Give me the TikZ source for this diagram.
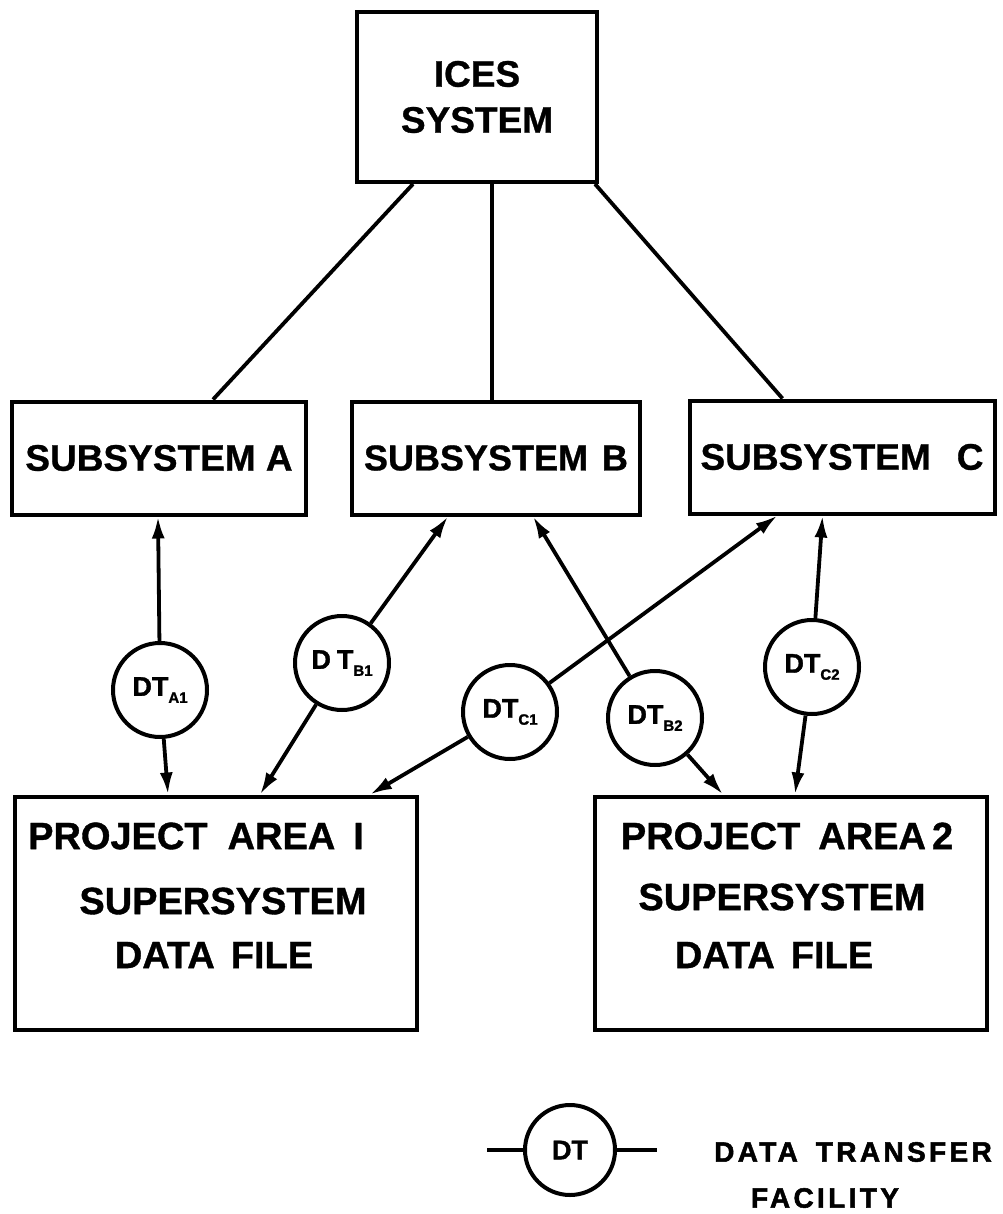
\documentclass[tikz,border=0pt]{standalone}
\usepackage{fontspec}
\setmainfont{Liberation Sans}
\usetikzlibrary{arrows.meta,calc}
\newcommand{\dtsub}[1]{\raisebox{-7pt}{\fontsize{15}{15}\selectfont #1}}
\begin{document}
\begin{tikzpicture}[x=1pt,y=-1pt,
  box/.style={draw, line width=4pt, inner sep=0pt, align=center,
    font=\fontsize{37}{46}\selectfont\bfseries\addfontfeatures{FakeBold=0.8}},
  dtnode/.style={draw, circle, line width=4pt, minimum size=94pt, inner sep=0pt,
    font=\fontsize{27}{27}\selectfont\bfseries\addfontfeatures{FakeBold=1.5}},
  conn/.style={line width=3.8pt},
  arr/.style={conn, -{Latex[length=22pt,width=13pt]}},
  lbl/.style={inner sep=0pt, font=\fontsize{38}{44}\selectfont\bfseries\addfontfeatures{FakeBold=1}},
  legtext/.style={inner sep=0pt, font=\fontsize{28}{30}\selectfont\bfseries\addfontfeatures{LetterSpace=12,FakeBold=1.8}}]
\useasboundingbox (0,0) rectangle (1002,1214);
\fill[white] (0,0) rectangle (1002,1214);

% boxes
\node[box, minimum width=240pt, minimum height=170pt] (ices) at (477,97) {ICES\\SYSTEM};
\node[box, minimum width=294pt, minimum height=113pt] (subA) at (159,458) {SUBSYSTEM A};
\node[box, minimum width=288pt, minimum height=113pt, font=\fontsize{36}{44}\selectfont\bfseries\addfontfeatures{FakeBold=0.8}] (subB) at (496,458) {SUBSYSTEM\hspace{14pt}B};
\node[box, minimum width=305pt, minimum height=113pt] (subC) at (842,457) {SUBSYSTEM\hspace{26pt}C};
\node[box, minimum width=402pt, minimum height=233pt] (pa1) at (216,913) {};
\node[box, minimum width=392pt, minimum height=233pt] (pa2) at (791,913) {};

\node[lbl] at (196,836) {PROJECT\hspace{20pt}AREA\hspace{18pt}I};
\node[lbl] at (223,901) {SUPERSYSTEM};
\node[lbl] at (214,955) {DATA\hspace{16pt}FILE};
\node[lbl] at (787,836) {PROJECT\hspace{18pt}AREA\hspace{6pt}2};
\node[lbl] at (782,897) {SUPERSYSTEM};
\node[lbl] at (774,955) {DATA\hspace{16pt}FILE};

% transfer circles
\node[dtnode] (dA1) at (160,690) {DT\dtsub{A1}};
\node[dtnode] (dB1) at (342,663) {D\hspace{6pt}T\dtsub{B1}};
\node[dtnode] (dC1) at (510,712) {DT\dtsub{C1}};
\node[dtnode] (dB2) at (655,718) {DT\dtsub{B2}};
\node[dtnode] (dC2) at (812,667) {DT\dtsub{C2}};

% ICES connectors
\coordinate (i1) at ($(ices.south west)+(58,0)$);
\coordinate (i2) at ($(ices.south west)+(137,0)$);
\coordinate (i3) at ($(ices.south east)+(-4,0)$);
\coordinate (sa) at ($(subA.north west)+(203,0)$);
\coordinate (sb) at ($(subB.north west)+(142,0)$);
\coordinate (sc) at ($(subC.north west)+(95,0)$);
\draw[conn] (i1) -- (sa);
\draw[conn] (i2) -- (sb);
\draw[conn] (i3) -- (sc);

% end points on boxes
\coordinate (a1u) at ($(subA.south west)+(148,0)$);
\coordinate (a1d) at ($(pa1.north west)+(155,0)$);
\coordinate (b1u) at ($(subB.south west)+(98,0)$);
\coordinate (b1d) at ($(pa1.north west)+(247,0)$);
\coordinate (c1u) at ($(subC.south west)+(90,0)$);
\coordinate (c1d) at ($(pa1.north west)+(357,0)$);
\coordinate (b2u) at ($(subB.south west)+(183,0)$);
\coordinate (b2d) at ($(pa2.north west)+(130,0)$);
\coordinate (c2u) at ($(subC.south west)+(135,0)$);
\coordinate (c2d) at ($(pa2.north west)+(202,0)$);

\draw[arr] (dA1) -- (a1u);
\draw[arr] (dA1) -- (a1d);
\draw[arr] (dB1) -- (b1u);
\draw[arr] (dB1) -- (b1d);
\draw[arr] (dC1) -- (c1u);
\draw[arr] (dC1) -- (c1d);
\draw[arr] (dB2) -- (b2u);
\draw[arr] (dB2) -- (b2d);
\draw[arr] (dC2) -- (c2u);
\draw[arr] (dC2) -- (c2d);

% legend
\node[dtnode, minimum size=90pt] (leg) at (570,1150) {DT};
\coordinate (legL) at (487,1150);
\coordinate (legR) at (657,1150);
\draw[conn] (legL) -- (leg);
\draw[conn] (leg) -- (legR);
\node[legtext, anchor=west] at (714,1152) {DATA\hspace{18pt}TRANSFER};
\node[legtext] at (825,1198) {FACILITY};
\end{tikzpicture}
\end{document}
